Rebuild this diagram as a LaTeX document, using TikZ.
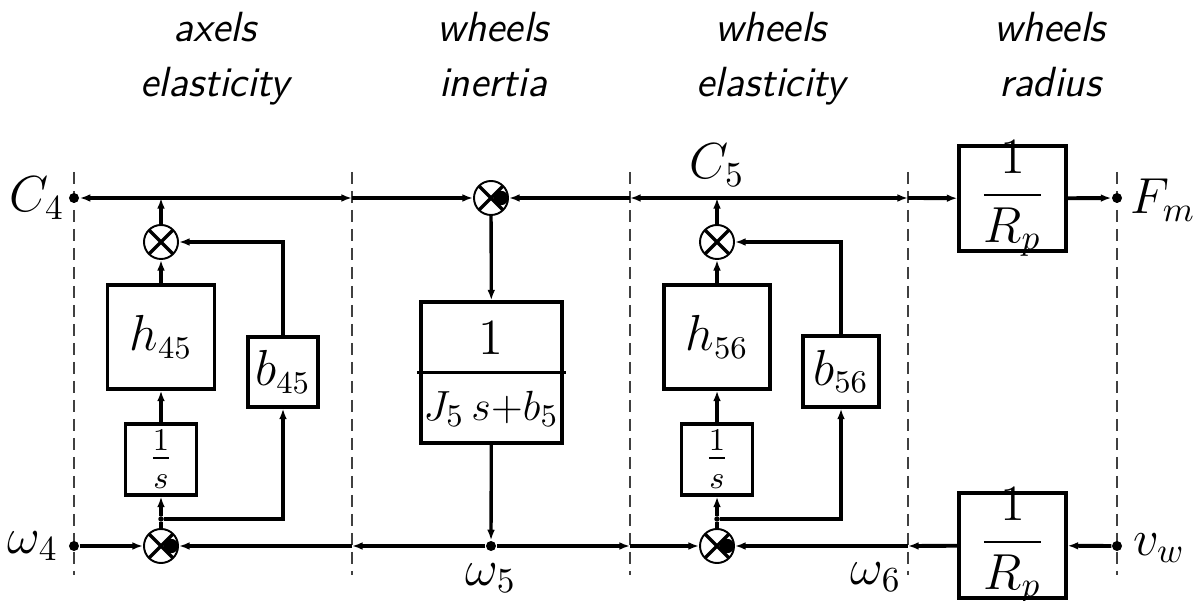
\documentclass[tikz,border=0pt]{standalone}
\usepackage{amsmath}
\usepackage{fontspec}
\usetikzlibrary{arrows.meta}

\begin{document}
\begin{tikzpicture}[x=0.01cm,y=-0.01cm,
  >={Latex[length=3pt,width=2.2pt]},
  blk/.style={draw,line width=0.9pt,inner sep=0pt},
  mult/.style={draw,circle,line width=0.55pt,minimum size=0.34cm,inner sep=0pt,
    path picture={\draw[line width=0.95pt] (path picture bounding box.north west) -- (path picture bounding box.south east)
      (path picture bounding box.north east) -- (path picture bounding box.south west);}},
  pt/.style={circle,fill,inner sep=0pt,minimum size=0.1cm},
  spt/.style={circle,fill,inner sep=0pt,minimum size=0.055cm},
  sig/.style={->,line width=1.1pt},
  fb/.style={->,line width=0.95pt},
  sep/.style={black!75,line width=0.5pt,dash pattern=on 3.4pt off 2pt},
  lbl/.style={font=\fontsize{13.5}{15}\selectfont},
  tag/.style={font=\fontsize{14.5}{16}\selectfont},
  head/.style={font=\fontsize{12}{14}\selectfont\sffamily\itshape,anchor=base}]
\useasboundingbox (0,0) rectangle (1201,601);

% headings
\node[head] (ha1) at (215,42) {axels};
\node[head] (hb1) at (215,97) {elasticity};
\node[head] (ha2) at (493,42) {wheels};
\node[head] (hb2) at (493,97) {inertia};
\node[head] (ha3) at (771,42) {wheels};
\node[head] (hb3) at (771,97) {elasticity};
\node[head] (ha4) at (1050,42) {wheels};
\node[head] (hb4) at (1050,97) {radius};

% separators
\foreach \x in {74,352,630,908,1117}
  \draw[sep] (\x,172) -- (\x,575);

% ports
\node[pt] (c4) at (74,198) {};
\node[pt] (w4) at (74,546) {};
\node[pt] (fm) at (1117,198) {};
\node[pt] (vw) at (1117,546) {};
\node[pt] (w5) at (491,546) {};

% multipliers
\node[mult] (s1) at (161,242) {};
\node[mult] (s2) at (161,546) {};
\node[mult] (s3) at (491,198) {};
\node[mult] (s4) at (717,546) {};
\node[mult] (s5) at (717,242) {};
\foreach \s in {s2,s3,s4}
  \fill ([xshift=0.1cm]\s.center) circle (0.072cm);

% axels elasticity
\node[blk,minimum width=1.07cm,minimum height=1.04cm,lbl] (h45) at (161,337) {$h_{45}$};
\node[blk,minimum size=0.70cm,lbl] (b45) at (283,372) {$b_{45}$};
\node[blk,minimum size=0.71cm,lbl] (i45) at (161,459.5) {$\frac{1}{s}$};
\node[spt] (k45) at (161,519) {};

% wheels inertia
\node[blk,minimum size=1.41cm] (jw) at (491.5,372.5) {};
\node[lbl] (jnum) at (491,338) {$1$};
\node[font=\fontsize{13}{15}\selectfont] (jden) at (491,409) {$J_5\,s{+}b_5$};
\draw[line width=0.9pt] ([xshift=-0.02cm]jw.west) -- ([xshift=0.02cm]jw.east);

% wheels elasticity
\node[blk,minimum width=1.06cm,minimum height=1.04cm,lbl] (h56) at (717,337) {$h_{56}$};
\node[blk,minimum width=0.76cm,minimum height=0.71cm,lbl] (b56) at (841,371.5) {$b_{56}$};
\node[blk,minimum size=0.71cm,lbl] (i56) at (717,459.5) {$\frac{1}{s}$};
\node[spt] (k56) at (717,519) {};

% wheels radius
\node[blk,minimum width=1.07cm,minimum height=1.05cm] (rp1) at (1012.5,198.5) {};
\node[tag] (rp1t) at (rp1) {$\dfrac{1}{R_p}$};
\node[blk,minimum width=1.07cm,minimum height=1.05cm] (rp2) at (1012.5,545.5) {};
\node[tag] (rp2t) at (rp2) {$\dfrac{1}{R_p}$};

% labels
\node[tag] (lc4) at (37,198) {$C_4$};
\node[tag] (lw4) at (33,546) {$\omega_4$};
\node[tag] (lfm) at (1163,200) {$F_m$};
\node[tag] (lvw) at (1159,548) {$v_w$};
\node[tag] (lc5) at (717,165) {$C_5$};
\node[tag] (lw5) at (491,578) {$\omega_5$};
\node[tag] (lw6) at (876,577) {$\omega_6$};

% crossing points
\coordinate (j45) at (161,198);
\coordinate (j56) at (717,198);
\coordinate (t1) at (352,198);
\coordinate (t2) at (630,198);
\coordinate (t3) at (908,198);
\coordinate (u1) at (352,546);
\coordinate (u2) at (630,546);
\coordinate (u3) at (908,546);

% top line
\draw[sig] (s1) -- (j45);
\draw[sig] (j45) -- (c4);
\draw[sig] (j45) -- (t1);
\draw[sig] (t1) -- (s3);
\draw[sig] (s5) -- (j56);
\draw[sig] (j56) -- (t2);
\draw[sig] (t2) -- (s3);
\draw[sig] (j56) -- (t3);
\draw[sig] (t3) -- (rp1);
\draw[sig] (rp1) -- (fm);

% inertia
\draw[fb] (s3) -- (jw);
\draw[fb] (jw) -- (w5);

% bottom line
\draw[sig] (w4) -- (s2);
\draw[sig] (w5) -- (u1);
\draw[sig] (u1) -- (s2);
\draw[sig] (w5) -- (u2);
\draw[sig] (u2) -- (s4);
\draw[sig] (vw) -- (rp2);
\draw[sig] (rp2) -- (u3);
\draw[sig] (u3) -- (s4);

% left loop
\draw[line width=1.1pt] (s2) -- (k45);
\draw[sig] (k45) -- (i45);
\draw[sig] (i45) -- (h45);
\draw[sig] (h45) -- (s1);
\draw[fb] (k45) -| (b45);
\draw[fb] (b45) |- (s1);

% right loop
\draw[line width=1.1pt] (s4) -- (k56);
\draw[sig] (k56) -- (i56);
\draw[sig] (i56) -- (h56);
\draw[sig] (h56) -- (s5);
\draw[fb] (k56) -| (b56);
\draw[fb] (b56) |- (s5);
\end{tikzpicture}
\end{document}
